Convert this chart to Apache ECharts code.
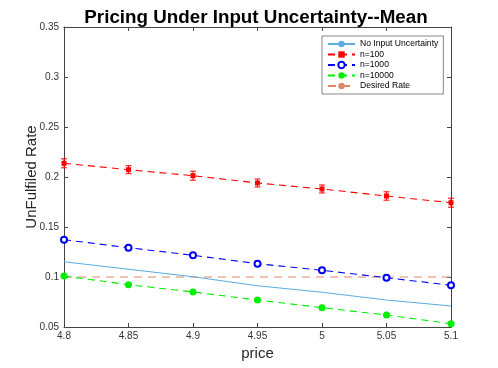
<!DOCTYPE html>
<html>
<head>
<meta charset="utf-8">
<script src="https://cdn.jsdelivr.net/npm/echarts@6/dist/echarts.min.js"></script>
<style>
  html, body { margin: 0; padding: 0; background: #fff; }
  #chart { width: 498px; height: 368px; }
</style>
</head>
<body>
<div id="chart"></div>
<script>
// values
const prices = [4.8, 4.85, 4.9, 4.95, 5, 5.05, 5.1]
const noUncertainty = [0.1153, 0.1077, 0.1003, 0.0913, 0.0847, 0.077, 0.071]
const n100 = [0.2137, 0.2073, 0.2013, 0.194, 0.188, 0.181, 0.1743]
const n100Err = [0.0045, 0.004, 0.0045, 0.004, 0.004, 0.0042, 0.0045]
const n1000 = [0.1373, 0.1293, 0.1217, 0.1133, 0.1067, 0.0993, 0.0917]
const n1000Err = [0.0015, 0.0013, 0.0013, 0.0013, 0.0013, 0.0013, 0.0013]
const n10000 = [0.101, 0.0923, 0.085, 0.077, 0.0693, 0.062, 0.0533]
const n10000Err = [0.001, 0.001, 0.001, 0.001, 0.001, 0.001, 0.001]
const desiredRate = [0.1, 0.1]
const desiredX = [4.8, 5.1]

const font = 'Liberation Sans'
const axisColor = '#444'

const pairs = (xs, ys) => xs.map((x, i) => [x, ys[i]])
const bars = (ys, errs) => prices.map((x, i) => [x, ys[i] - errs[i], ys[i] + errs[i]])

function errorBar(name, color, data) {
    return {
        name: name + ' err',
        type: 'custom',
        data: data,
        z: 3,
        renderItem: (params, api) => {
            const x = api.value(0)
            const lo = api.coord([x, api.value(1)])
            const hi = api.coord([x, api.value(2)])
            const w = 3
            const st = { stroke: color, lineWidth: 1 }
            return {
                type: 'group',
                children: [
                    { type: 'line', shape: { x1: lo[0], y1: lo[1], x2: hi[0], y2: hi[1] }, style: st },
                    { type: 'line', shape: { x1: lo[0] - w, y1: lo[1], x2: lo[0] + w, y2: lo[1] }, style: st },
                    { type: 'line', shape: { x1: hi[0] - w, y1: hi[1], x2: hi[0] + w, y2: hi[1] }, style: st }
                ]
            }
        }
    }
}

function dashed(name, color, ys, symbol, size) {
    return {
        name: name,
        type: 'line',
        data: pairs(prices, ys),
        color: color,
        symbol: symbol,
        symbolSize: size,
        showSymbol: true,
        itemStyle: { color: color, borderWidth: 1.3 },
        lineStyle: { color: color, width: 1.1, type: [7, 5] },
        z: 4
    }
}

const chart = echarts.init(document.getElementById('chart'))
chart.setOption({
    animation: false,
    backgroundColor: '#fff',
    title: {
        text: 'Pricing Under Input Uncertainty--Mean',
        left: 251, top: 3, textAlign: 'center',
        textStyle: { fontFamily: font, fontSize: 18.8, fontWeight: 'bold', color: '#000' }
    },
    grid: { left: 64, right: 47, top: 27, bottom: 41 },
    legend: {
        orient: 'vertical',
        left: 322, top: 36,
        padding: [3, 5, 3, 5],
        itemGap: 0.5,
        itemWidth: 27, itemHeight: 8,
        backgroundColor: '#fff',
        borderColor: '#333', borderWidth: 0.6,
        textStyle: { fontFamily: font, fontSize: 8.6, color: '#000', lineHeight: 10 },
        data: ['No Input Uncertainty', 'n=100', 'n=1000', 'n=10000', 'Desired Rate']
    },
    xAxis: [{
        type: 'value', min: 4.8, max: 5.1, interval: 0.05,
        name: 'price', nameLocation: 'middle', nameGap: 18,
        nameTextStyle: { fontFamily: font, fontSize: 15, color: '#262626' },
        axisLine: { lineStyle: { color: axisColor } },
        axisTick: { inside: true, length: 4, lineStyle: { color: axisColor } },
        axisLabel: { fontFamily: font, fontSize: 10, color: '#333', margin: 4 },
        splitLine: { show: false }
    }, {
        type: 'value', position: 'top', min: 4.8, max: 5.1, interval: 0.05,
        axisLine: { show: true, lineStyle: { color: axisColor } },
        axisTick: { inside: true, length: 4, lineStyle: { color: axisColor } },
        axisLabel: { show: false }, splitLine: { show: false }
    }],
    yAxis: [{
        type: 'value', min: 0.05, max: 0.35, interval: 0.05,
        name: 'UnFulfiled Rate', nameLocation: 'middle', nameGap: 25,
        nameMoveOverlap: false,
        nameTextStyle: { fontFamily: font, fontSize: 15, color: '#262626' },
        axisLine: { show: true, lineStyle: { color: axisColor } },
        axisTick: { show: true, inside: true, length: 4, lineStyle: { color: axisColor } },
        axisLabel: { fontFamily: font, fontSize: 10, color: '#333', margin: 5 },
        splitLine: { show: false }
    }, {
        type: 'value', position: 'right', min: 0.05, max: 0.35, interval: 0.05,
        axisLine: { show: true, lineStyle: { color: axisColor } },
        axisTick: { show: true, inside: true, length: 4, lineStyle: { color: axisColor } },
        axisLabel: { show: false }, splitLine: { show: false }
    }],
    series: [
        {
            name: 'No Input Uncertainty', type: 'line',
            data: pairs(prices, noUncertainty),
            color: '#5AAEE0', showSymbol: false, symbol: 'none',
            lineStyle: { color: '#5AAEE0', width: 1.1 }, z: 2
        },
        dashed('n=100', '#FF0000', n100, 'rect', 5),
        errorBar('n=100', '#FF0000', bars(n100, n100Err)),
        dashed('n=1000', '#0000FF', n1000, 'emptyCircle', 6),
        errorBar('n=1000', '#0000FF', bars(n1000, n1000Err)),
        dashed('n=10000', '#00EE00', n10000, 'circle', 7),
        errorBar('n=10000', '#00EE00', bars(n10000, n10000Err)),
        {
            name: 'Desired Rate', type: 'line',
            data: pairs(desiredX, desiredRate),
            color: '#E0876A', showSymbol: false, symbol: 'none',
            lineStyle: { color: '#E0876A', width: 1, type: [8, 6] }, z: 1
        }
    ]
})
</script>
</body>
</html>
